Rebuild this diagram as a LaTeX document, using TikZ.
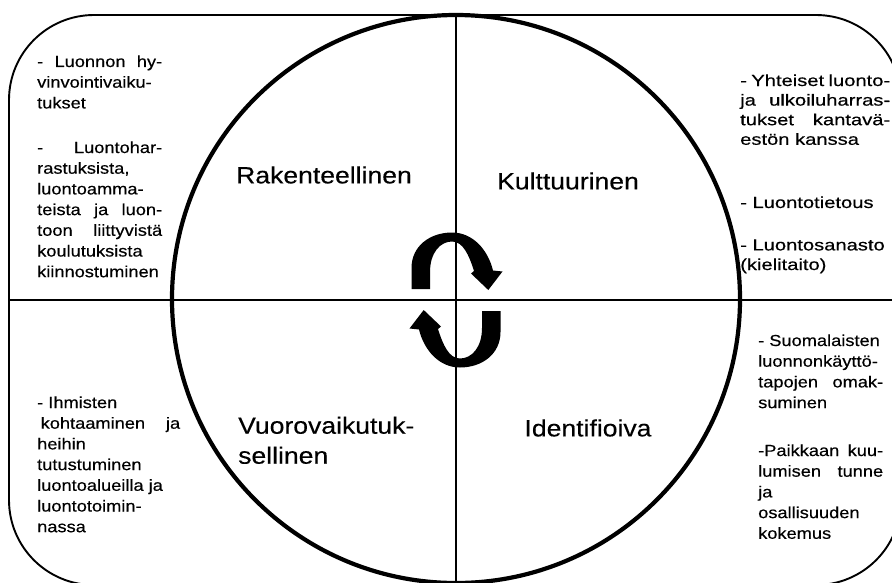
\documentclass[tikz,border=0pt]{standalone}
\usepackage{fontspec}
\setmainfont{Liberation Sans}
\newfontfamily\sidefont[FakeStretch=1.14,FakeBold=0.4]{Liberation Sans}
\newfontfamily\widefont[FakeStretch=1.26,FakeBold=0.4]{Liberation Sans}
\newfontfamily\labfont[FakeStretch=1.13,FakeBold=0.3]{Liberation Sans}
\newcommand\jline[2]{\makebox[#1][s]{#2}}
\begin{document}
\begin{tikzpicture}[x=1pt,y=-1pt,
  side/.style={anchor=north west, inner sep=0pt, align=left, font=\sidefont\fontsize{16}{20.7}\selectfont},
  wide/.style={anchor=north west, inner sep=0pt, align=left, font=\widefont\fontsize{16}{19.6}\selectfont},
  quad/.style={inner sep=0pt, font=\labfont\fontsize{23.5}{30}\selectfont},
  frame/.style={line width=1.9pt},
  cross/.style={line width=1.7pt},
  ring/.style={line width=4.2pt},
  turn/.style={fill=black, draw=none}]
\useasboundingbox (0,0) rectangle (892,582);
\clip (0,0) rectangle (892,582);
\fill[white] (0,0) rectangle (892,582);
\coordinate (ctr) at (456,300);
\coordinate (hl) at (9,300);
\coordinate (hr) at (892,300);
\coordinate (vt) at (456,15);
\coordinate (vb) at (456,582);
\draw[frame, rounded corners=85pt] (9,15) rectangle (901,585);
\draw[cross] (hl) -- (hr);
\draw[cross] (vt) -- (vb);
\draw[ring] (456,299) circle[radius=284];
% turning arrows
\def\turnpath{(411.5,289) -- (411.5,268) .. controls (411.5,246) and (430,232.5) .. (452,232.5)
  .. controls (473,232.5) and (488,250) .. (493,270.5) -- (502.5,271.5) -- (488.3,290) -- (471,273.5)
  -- (474,271) .. controls (469,255) and (463,241.5) .. (452,241.5)
  .. controls (440,241.5) and (430,253) .. (430,272) -- (430,289) -- cycle}
\fill[turn] \turnpath;
\fill[turn, rotate around={180:(ctr)}] \turnpath;
% quadrant labels
\node[quad] (rak) at (324,175) {Rakenteellinen};
\node[quad] (kul) at (568,181) {Kulttuurinen};
\node[quad, anchor=north west, align=left] (vuo) at (238,416.5) {Vuorovaikutuk-\\sellinen};
\node[quad] (ide) at (588,428) {Identifioiva};
% side texts
\node[side] (lt1) at (37,55.2) {\jline{125pt}{- Luonnon hy-}\\vinvointivaiku-\\tukset};
\node[side] (lt2) at (37,141.2) {\jline{125pt}{- Luontohar-}\\rastuksista,\\luontoamma-\\\jline{125pt}{teista ja luon-}\\\jline{125pt}{toon liittyvistä}\\koulutuksista\\kiinnostuminen};
\node[wide] (rt1) at (740,74.2) {\jline{150pt}{- Yhteiset luonto-}\\\jline{150pt}{ja ulkoiluharras-}\\\jline{150pt}{tukset kantavä-}\\estön kanssa};
\node[wide] (rt2) at (740,196.2) {- Luontotietous};
\node[wide] (rt3) at (740,239.2) {- Luontosanasto\\(kielitaito)};
\node[side] (rb1) at (758,334.2) {- Suomalaisten\\luonnonkäyttö-\\\jline{125pt}{tapojen omak-}\\suminen};
\node[side] (rb2) at (758,444.2) {\jline{125pt}{-Paikkaan kuu-}\\\jline{125pt}{lumisen tunne}\\ja\\osallisuuden\\kokemus};
\node[side] (lb1) at (37,396.2) {- Ihmisten\\\jline{143pt}{\hspace*{3.5pt}kohtaaminen ja}\\heihin\\tutustuminen\\luontoalueilla ja\\luontotoimin-\\nassa};
\end{tikzpicture}
\end{document}
